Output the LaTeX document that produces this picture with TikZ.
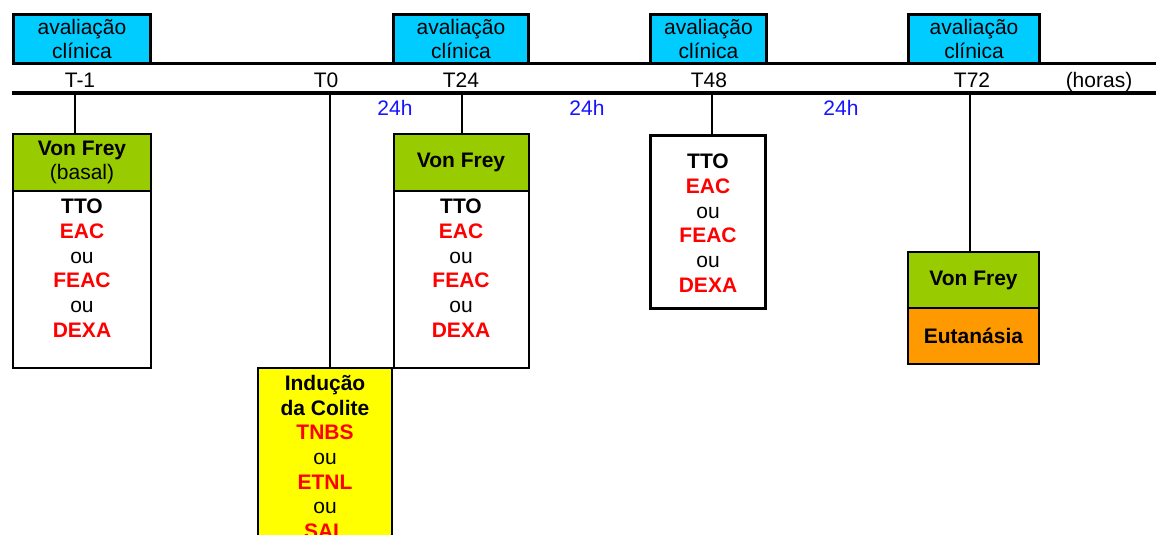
\documentclass[tikz,border=0pt]{standalone}
\usepackage{fontspec}
\setmainfont{Liberation Sans}
\usepackage{xcolor}
\usepackage{tikz}
\usetikzlibrary{positioning}
\definecolor{clincyan}{RGB}{0, 204, 255}
\definecolor{vfgreen}{RGB}{153, 204, 0}
\definecolor{eutorange}{RGB}{255, 153, 0}
\definecolor{indyellow}{RGB}{255, 255, 0}
\definecolor{drugred}{RGB}{255, 0, 0}
\definecolor{hourblue}{RGB}{20, 20, 255}
\newcommand{\drug}[1]{\textcolor{drugred}{\textbf{#1}}}

\begin{document}
\begin{tikzpicture}[
    x=1pt, y=-1pt,
    node distance=0pt,
    font=\fontsize{21}{24.7}\selectfont,
    clin/.style={draw, line width=2.8pt, fill=clincyan, outer sep=0, inner sep=0, minimum height=49, align=center},
    vf/.style={draw, line width=2pt, fill=vfgreen, outer sep=0, inner sep=0, minimum height=57, align=center, font=\fontsize{21}{24.7}\selectfont\bfseries},
    panel/.style={draw, line width=2pt, fill=white, outer sep=0, inner sep=0},
    listing/.style={anchor=north, inner sep=0, align=center},
    tick/.style={anchor=base, inner sep=0},
    hours/.style={anchor=base, inner sep=0, text=hourblue},
    axis/.style={line width=3.2pt},
    link/.style={line width=2pt}
]
    \useasboundingbox (0,0) rectangle (1156,535);
    \clip (0,0) rectangle (1156,535);

    % Clinical evaluation
    \node[clin, minimum width=137] (clin0) at (82,39) {avaliação\\clínica};
    \node[clin, minimum width=135] (clin24) at (461,39) {avaliação\\clínica};
    \node[clin, minimum width=116] (clin48) at (708.5,39) {avaliação\\clínica};
    \node[clin, minimum width=131] (clin72) at (974,39) {avaliação\\clínica};

    % Timeline
    \coordinate (axisW) at (12,93);
    \coordinate (axisE) at (1160,93);
    \draw[axis] (clin0.south west) -- (clin0.south west -| axisE);
    \draw[axis] (axisW) -- (axisE);

    \node[tick] (lblm1) at (80,87) {T-1};
    \node[tick] (lbl0) at (326,87) {T0};
    \node[tick] (lbl24) at (461,87) {T24};
    \node[tick] (lbl48) at (709,87) {T48};
    \node[tick] (lbl72) at (972,87) {T72};
    \node[tick] (unit) at (1099,87) {(horas)};

    \node[hours] (gap1) at (395,115) {24h};
    \node[hours] (gap2) at (587,115) {24h};
    \node[hours] (gap3) at (841,115) {24h};

    \coordinate (tm1) at (75,93);
    \coordinate (t0) at (330,93);
    \coordinate (t24) at (462,93);
    \coordinate (t48) at (712,93);
    \coordinate (t72) at (970,93);

    % T-1
    \node[vf, minimum width=138] (vf0) at (82,162.5) {Von Frey\\\mdseries(basal)};
    \node[panel, minimum width=138, minimum height=177, below=of vf0] (tto0) {};
    \node[listing] (list0) at (82,199) {\textbf{TTO}\\\drug{EAC}\\ou\\\drug{FEAC}\\ou\\\drug{DEXA}};

    % T0
    \node[panel, fill=indyellow, minimum width=134, minimum height=220, anchor=north] (ind) at (325,368) {};
    \node[listing] (list0b) at (325,375) {\textbf{Indução}\\\textbf{da Colite}\\\drug{TNBS}\\ou\\\drug{ETNL}\\ou\\\drug{SAL}};

    % T24
    \node[vf, minimum width=135] (vf24) at (461,162.5) {Von Frey};
    \node[panel, minimum width=135, minimum height=177, below=of vf24] (tto24) {};
    \node[listing] (list24) at (461,199) {\textbf{TTO}\\\drug{EAC}\\ou\\\drug{FEAC}\\ou\\\drug{DEXA}};

    % T48
    \node[panel, line width=3pt, minimum width=115, minimum height=173] (tto48) at (708,222) {};
    \node[listing] (list48) at (708,154) {\textbf{TTO}\\\drug{EAC}\\ou\\\drug{FEAC}\\ou\\\drug{DEXA}};

    % T72
    \node[vf, minimum width=131, minimum height=56] (vf72) at (973.5,280) {Von Frey};
    \node[vf, fill=eutorange, minimum width=131, minimum height=56, below=of vf72] (eut72) {Eutanásia};

    % Links to the timeline
    \draw[link] (tm1) -- (tm1 |- vf0.north);
    \draw[link] (t0) -- (t0 |- ind.north);
    \draw[link] (t24) -- (t24 |- vf24.north);
    \draw[link] (t48) -- (t48 |- tto48.north);
    \draw[link] (t72) -- (t72 |- vf72.north);

\end{tikzpicture}
\end{document}
